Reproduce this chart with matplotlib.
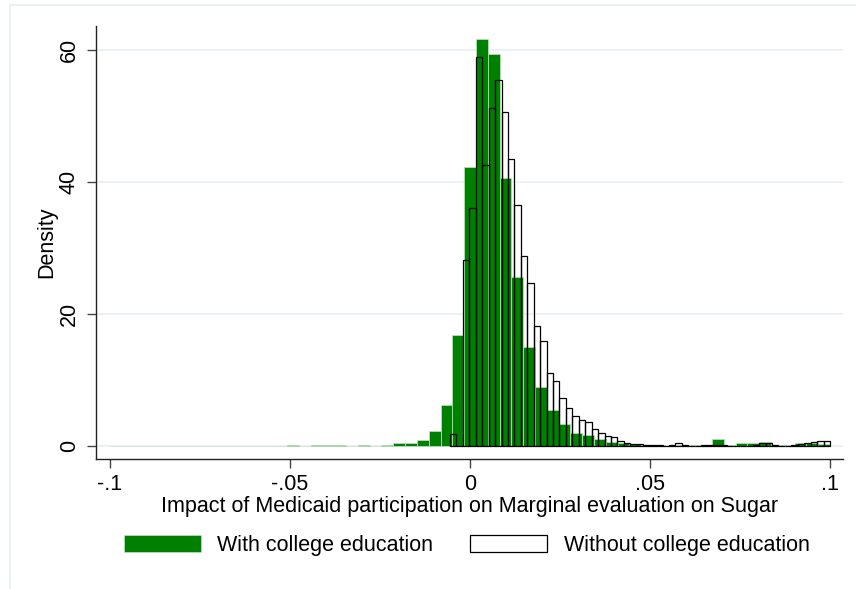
import numpy as np
import matplotlib.pyplot as plt
from matplotlib.patches import Rectangle

plt.rcParams['font.family'] = ['Liberation Sans', 'DejaVu Sans']

# With college education: 61 equal bins over [-0.1, 0.1]
college_range = (-0.1, 0.1)
college_density = [
    0.03, 0.02, 0.05, 0.05, 0.02, 0.02, 0.05, 0.05, 0.02, 0.02,
    0.02, 0.05, 0.05, 0.02, 0.02, 0.08, 0.06, 0.1, 0.12, 0.15,
    0.05, 0.08, 0.03, 0.2, 0.45, 0.45, 0.85, 2.2, 6.2, 16.8,
    42.3, 61.7, 59.4, 40.6, 25.6, 15.0, 9.0, 5.45, 3.4, 2.0,
    1.7, 1.05, 0.6, 0.4, 0.3, 0.2, 0.2, 0.05, 0.1, 0.1,
    0.1, 1.0, 0.2, 0.4, 0.4, 0.55, 0.2, 0.1, 0.5, 0.5,
    0.3,
]

# Without college education: 59 equal bins over [-0.00556, 0.1]
nocollege_range = (-0.00556, 0.1)
nocollege_density = [
    1.8, 0.0, 28.2, 36.0, 58.9, 42.5, 51.2, 55.4, 50.6, 43.4,
    36.5, 28.7, 24.7, 18.1, 15.9, 11.1, 9.8, 7.3, 5.8, 4.5,
    3.9, 3.6, 2.5, 2.0, 1.5, 1.3, 0.8, 0.5, 0.35, 0.25,
    0.2, 0.15, 0.1, 0.05, 0.15, 0.4, 0.15, 0.0, 0.0, 0.1,
    0.15, 0.2, 0.1, 0.05, 0.05, 0.0, 0.0, 0.1, 0.5, 0.5,
    0.2, 0.0, 0.0, 0.1, 0.25, 0.5, 0.6, 0.8, 0.8,
]

xticks = [-0.1, -0.05, 0, 0.05, 0.1]
xticklabels = ["-.1", "-.05", "0", ".05", ".1"]
yticks = [0, 20, 40, 60]

green = "#008000"
fs = 15.5

fig = plt.figure(figsize=(8.56, 5.89), dpi=100)
ax = fig.add_axes([0.1121, 0.2207, 0.8727, 0.7352])

# faint graph-region outline
fig.patches.append(Rectangle((10 / 856, -0.05), 1.2, 1 - 5 / 589 + 0.05,
                             transform=fig.transFigure, fill=False,
                             edgecolor="#e6edf1", linewidth=1.2, zorder=0))

ax.set_axisbelow(True)
ax.grid(axis="y", color="#e8eff3", linewidth=1.2)
ax.grid(axis="x", visible=False)

edges_c = np.linspace(*college_range, len(college_density) + 1)
ax.bar(edges_c[:-1], college_density, width=np.diff(edges_c), align="edge",
       color=green, edgecolor="#c4e2c4", linewidth=0.5,
       label="With college education", zorder=2)

edges_n = np.linspace(*nocollege_range, len(nocollege_density) + 1)
ax.bar(edges_n[:-1], nocollege_density, width=np.diff(edges_n), align="edge",
       facecolor="none", edgecolor="black", linewidth=0.9,
       label="Without college education", zorder=3)

ax.set_xlim(-0.1039, 0.1036)
ax.set_ylim(-1.97, 63.6)
ax.set_xticks(xticks)
ax.set_xticklabels(xticklabels)
ax.set_yticks(yticks)
ax.set_yticklabels([str(t) for t in yticks], rotation=90, va="center")

for side in ["top", "right"]:
    ax.spines[side].set_visible(False)
for side in ["left", "bottom"]:
    ax.spines[side].set_color("#222222")
    ax.spines[side].set_linewidth(1.0)

ax.tick_params(axis="both", direction="out", length=6.5, width=1.0,
               color="#444444", labelsize=fs, pad=5)
ax.tick_params(axis="x", pad=4)
ax.set_xlabel("Impact of Medicaid participation on Marginal evaluation on Sugar",
              fontsize=fs, labelpad=1)
ax.set_ylabel("Density", fontsize=fs, labelpad=1)

fig.legend(loc="center", bbox_to_anchor=(0.545, 0.0735), ncol=2,
           frameon=False, fontsize=fs, handlelength=3.6, handleheight=0.84,
           handletextpad=0.75, columnspacing=1.7)

plt.savefig("out.png", dpi=100)
